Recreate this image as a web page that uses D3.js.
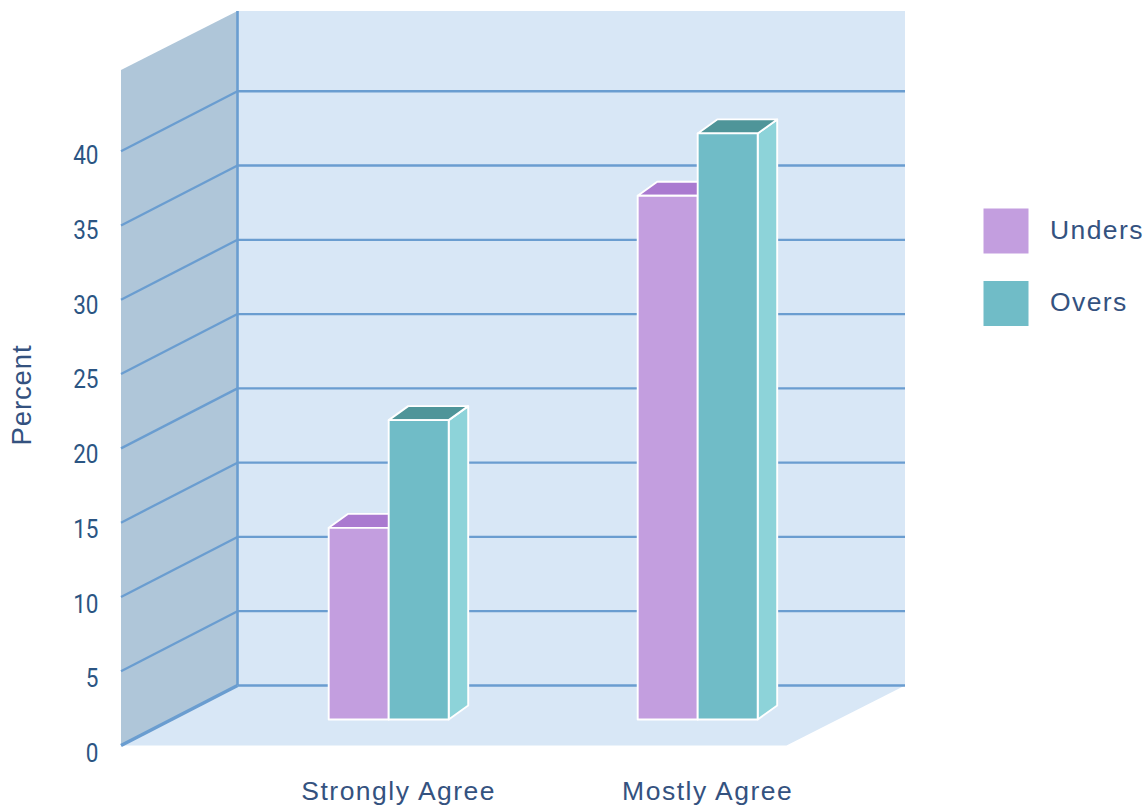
<!DOCTYPE html>
<html>
<head>
<meta charset="utf-8">
<script src="https://cdn.jsdelivr.net/npm/d3@7"></script>
<style>
  html, body { margin: 0; padding: 0; background: #fff; overflow: hidden; }
  svg { display: block; }
  text { font-family: "Liberation Sans", Arial, sans-serif; fill: #34527f; }
  .tick-label { font-family: Roboto, sans-serif; font-size: 26.5px; fill: #2b5583; }
  .cat-label { font-size: 26.5px; letter-spacing: 1.5px; }
  .legend-label { font-size: 26.5px; letter-spacing: 1.4px; }
  .axis-title { font-size: 27.5px; letter-spacing: 0.9px; }
</style>
</head>
<body>
<div id="chart"></div>
<script>
  const categories = ['Strongly Agree', 'Mostly Agree'];
  const seriesNames = ['Unders', 'Overs'];
  const unders = [12.9, 35.25];
  const overs = [20.15, 39.45];
  const tickValues = [0, 5, 10, 15, 20, 25, 30, 35, 40];
  const axisMax = 45.4;

  const width = 1146;
  const height = 805;

  const faceColour = { Unders: '#c39edf', Overs: '#70bcc7' };
  const topColour = { Unders: '#aa7ad0', Overs: '#4f9599' };
  const sideColour = { Unders: '#b48cd6', Overs: '#8dd3d9' };
  const gridColour = '#6a9dd0';

  const svg = d3.select('#chart').append('svg')
    .attr('width', width)
    .attr('height', height);

  // back wall scale, the side wall and the bars are offset from it
  const y = d3.scaleLinear().domain([0, axisMax]).range([685.5, 11]);
  const unit = y(0) - y(1);

  // room depth
  const wallDx = 116.5, wallDy = 60;
  const backLeft = 237.5, backRight = 905;

  const line = d3.line();
  const poly = pts => line(pts) + 'Z';

  // back wall
  svg.append('path')
    .attr('d', poly([[backLeft, y(axisMax)], [backRight, y(axisMax)], [backRight, y(0)], [backLeft, y(0)]]))
    .attr('fill', '#d8e7f6');

  // floor
  svg.append('path')
    .attr('d', poly([[backLeft, y(0)], [backRight, y(0)], [backRight - wallDx - 2, y(0) + wallDy], [backLeft - wallDx, y(0) + wallDy]]))
    .attr('fill', '#d8e7f6');

  // side wall
  svg.append('path')
    .attr('d', poly([[backLeft, y(axisMax)], [backLeft, y(0)], [backLeft - wallDx, y(0) + wallDy], [backLeft - wallDx, y(axisMax) + wallDy - 1]]))
    .attr('fill', '#afc6d9');

  // gridlines, back wall then side wall
  svg.selectAll('.grid-back')
    .data(tickValues)
    .enter()
    .append('line')
    .attr('class', 'grid-back')
    .attr('x1', backLeft)
    .attr('x2', backRight)
    .attr('y1', d => y(d))
    .attr('y2', d => y(d))
    .attr('stroke', gridColour)
    .attr('stroke-width', 2.3);

  svg.selectAll('.grid-side')
    .data(tickValues)
    .enter()
    .append('line')
    .attr('class', 'grid-side')
    .attr('x1', backLeft)
    .attr('x2', backLeft - wallDx)
    .attr('y1', d => y(d))
    .attr('y2', d => y(d) + wallDy)
    .attr('stroke', gridColour)
    .attr('stroke-width', d => d === 0 ? 3.5 : 2.3);

  // corner where the two walls meet
  svg.append('line')
    .attr('x1', backLeft)
    .attr('x2', backLeft)
    .attr('y1', y(axisMax))
    .attr('y2', y(0))
    .attr('stroke', gridColour)
    .attr('stroke-width', 2.6);

  // bars
  const xCat = d3.scaleBand().domain(categories).range([234.2, 852.2]);
  const xSeries = d3.scaleBand().domain(seriesNames).range([-60, 60]);
  const barBase = 719.5;
  const barDx = 19.5, barDy = 14;

  const bars = [];
  categories.forEach((c, i) => {
    bars.push({ cat: c, series: 'Unders', value: unders[i] });
    bars.push({ cat: c, series: 'Overs', value: overs[i] });
  });

  const barGroups = svg.selectAll('.bar')
    .data(bars)
    .enter()
    .append('g')
    .attr('class', 'bar')
    .attr('stroke', '#fff')
    .attr('stroke-width', 1.9)
    .attr('stroke-linejoin', 'round');

  const barX0 = d => xCat(d.cat) + xCat.bandwidth() / 2 + xSeries(d.series);
  const barX1 = d => barX0(d) + xSeries.bandwidth();
  const barTop = d => barBase - d.value * unit;

  barGroups.append('path')
    .attr('d', d => poly([[barX1(d), barTop(d)], [barX1(d) + barDx, barTop(d) - barDy], [barX1(d) + barDx, barBase - barDy], [barX1(d), barBase]]))
    .attr('fill', d => sideColour[d.series]);

  barGroups.append('path')
    .attr('d', d => poly([[barX0(d), barTop(d)], [barX0(d) + barDx, barTop(d) - barDy], [barX1(d) + barDx, barTop(d) - barDy], [barX1(d), barTop(d)]]))
    .attr('fill', d => topColour[d.series]);

  barGroups.append('rect')
    .attr('x', barX0)
    .attr('y', barTop)
    .attr('width', xSeries.bandwidth())
    .attr('height', d => barBase - barTop(d))
    .attr('fill', d => faceColour[d.series]);

  // value axis labels, squeezed horizontally
  const yLabel = d3.scaleLinear().domain([0, 40]).range([752.5, 154.5]);
  svg.selectAll('.tick-label')
    .data(tickValues)
    .enter()
    .append('text')
    .attr('class', 'tick-label')
    .attr('transform', d => `translate(98.5,${yLabel(d)}) scale(0.85,1)`)
    .attr('dy', '0.36em')
    .attr('text-anchor', 'end')
    .text(d => d);

  svg.append('text')
    .attr('class', 'axis-title')
    .attr('transform', 'translate(31,395) rotate(-90)')
    .attr('text-anchor', 'middle')
    .text('Percent');

  // category labels
  svg.selectAll('.cat-label')
    .data(categories)
    .enter()
    .append('text')
    .attr('class', 'cat-label')
    .attr('x', d => xCat(d) + xCat.bandwidth() / 2 + 10)
    .attr('y', 800)
    .attr('text-anchor', 'middle')
    .text(d => d);

  // legend
  const legendY = d3.scalePoint().domain(seriesNames).range([208.5, 281]);
  svg.selectAll('.legend-swatch')
    .data(seriesNames)
    .enter()
    .append('rect')
    .attr('class', 'legend-swatch')
    .attr('x', 983.5)
    .attr('y', d => legendY(d))
    .attr('width', 45)
    .attr('height', 45)
    .attr('fill', d => faceColour[d]);

  svg.selectAll('.legend-label')
    .data(seriesNames)
    .enter()
    .append('text')
    .attr('class', 'legend-label')
    .attr('x', 1050)
    .attr('y', d => legendY(d) + 30)
    .text(d => d);
</script>
</body>
</html>
